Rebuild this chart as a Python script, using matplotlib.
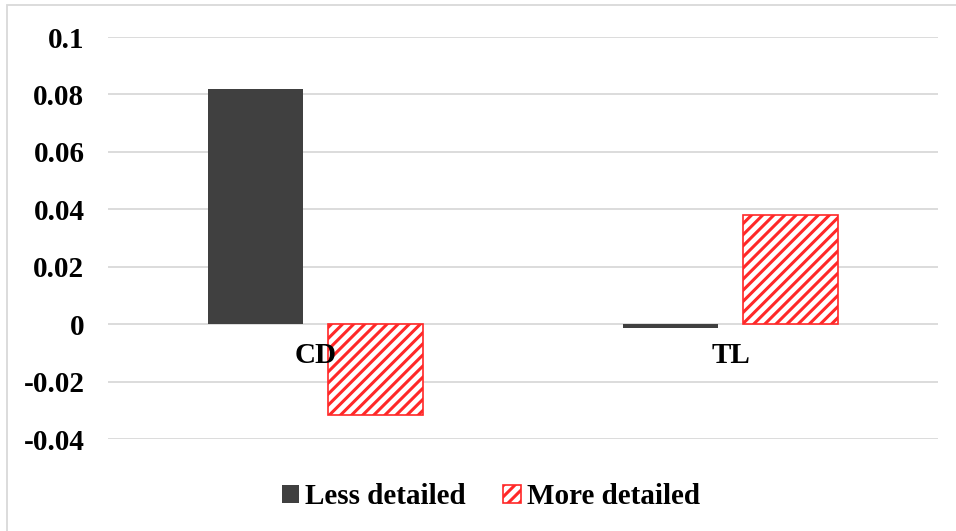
import matplotlib
matplotlib.use('Agg')
import matplotlib.pyplot as plt
from matplotlib.patches import Rectangle
import numpy as np

# data
categories = ['CD', 'TL']
less_detailed = [0.082, -0.0015]
more_detailed = [-0.0317, 0.038]
yticks = [-0.04, -0.02, 0, 0.02, 0.04, 0.06, 0.08, 0.1]
ytick_labels = ['-0.04', '-0.02', '0', '0.02', '0.04', '0.06', '0.08', '0.1']

plt.rcParams['font.family'] = ['Liberation Serif', 'DejaVu Serif']
plt.rcParams['font.weight'] = 'bold'
plt.rcParams['hatch.linewidth'] = 2.2
plt.rcParams['hatch.color'] = '#FF2828'

fig = plt.figure(figsize=(9.56, 5.31), dpi=100)
ax = fig.add_axes([108 / 956, 1 - 439 / 531, 830 / 956, 402 / 531])

x = np.arange(len(categories))
w = 0.23
ax.bar(x - 0.145, less_detailed, w, color='#404040', label='Less detailed', zorder=3)
ax.bar(x + 0.145, more_detailed, w, color='white', edgecolor='#FF2828', hatch='///',
       linewidth=1.2, label='More detailed', zorder=3)

ax.set_xlim(-0.5, 1.5)
ax.set_ylim(-0.04, 0.1)
ax.set_yticks(yticks)
ax.set_yticklabels(ytick_labels)
ax.grid(axis='y', color='#D9D9D9', linewidth=1.3, zorder=0)
for s in ['top', 'right', 'left', 'bottom']:
    ax.spines[s].set_visible(False)
ax.set_xticks([])
ax.tick_params(axis='y', length=0, pad=17, labelsize=21)

# category labels sit just under the zero line, drawn above the bars
for i, c in enumerate(categories):
    ax.annotate(c, (x[i], 0), xytext=(0, -13), textcoords='offset points',
                ha='center', va='top', fontsize=21, fontweight='bold', zorder=5)

ax.legend(loc='upper center', bbox_to_anchor=(0.461, -0.045), ncol=2, frameon=False,
          fontsize=21, handlelength=0.6, handleheight=0.6, handletextpad=0.2,
          columnspacing=1.3)

fig.patches.append(Rectangle((7 / 956, -0.05), 1.2, 1 - 5 / 531 + 0.05,
                             transform=fig.transFigure, fill=False,
                             edgecolor='#D9D9D9', linewidth=1.3))

fig.savefig('out.png', dpi=100)
